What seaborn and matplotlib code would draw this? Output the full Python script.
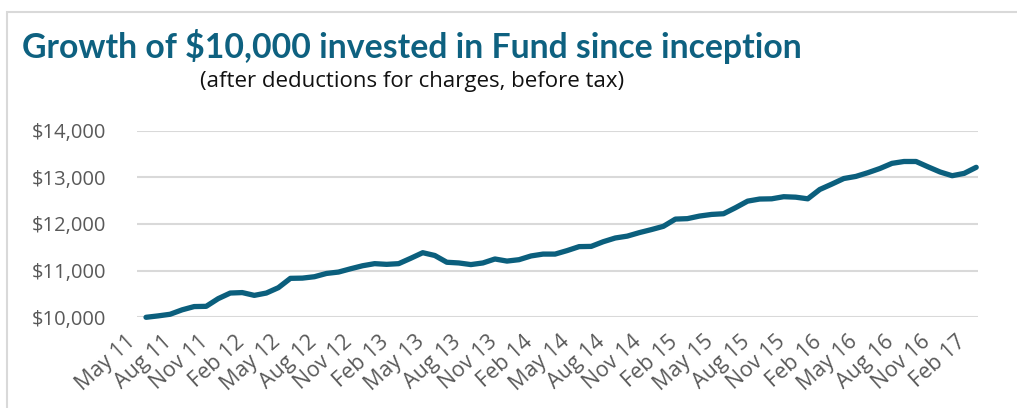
import seaborn as sns
import matplotlib.pyplot as plt
import pandas as pd
from matplotlib.patches import Rectangle
from matplotlib.transforms import ScaledTranslation

# monthly values, May 11 .. Feb 17
values = [10000, 10030, 10065, 10160, 10230, 10235, 10400, 10520, 10530, 10470,
          10520, 10635, 10835, 10840, 10870, 10940, 10970, 11040, 11105, 11150,
          11135, 11150, 11265, 11385, 11325, 11180, 11165, 11130, 11165, 11250,
          11205, 11235, 11315, 11355, 11355, 11430, 11515, 11520, 11620, 11700,
          11740, 11815, 11880, 11950, 12105, 12115, 12170, 12205, 12220, 12350,
          12490, 12535, 12540, 12585, 12575, 12540, 12740, 12855, 12975, 13020,
          13100, 13190, 13300, 13340, 13340, 13225, 13115, 13035, 13085, 13215]

tick_labels = ["May 11", "Aug 11", "Nov 11", "Feb 12", "May 12", "Aug 12",
               "Nov 12", "Feb 13", "May 13", "Aug 13", "Nov 13", "Feb 14",
               "May 14", "Aug 14", "Nov 14", "Feb 15", "May 15", "Aug 15",
               "Nov 15", "Feb 16", "May 16", "Aug 16", "Nov 16", "Feb 17"]

y_ticks = [10000, 11000, 12000, 13000, 14000]

df = pd.DataFrame({"month": range(len(values)), "value": values})

sns.set_style("white")
plt.rcParams['font.family'] = ['Open Sans', 'DejaVu Sans']

fig = plt.figure(figsize=(10.17, 4.08), dpi=100)
ax = fig.add_axes([137 / 1017, 1 - 317.3 / 408, 841 / 1017, 186.6 / 408])

# light frame around the chart
fig.patches.append(Rectangle((7 / 1017, -0.1), 1.2, 1 - 12 / 408 + 0.1,
                             transform=fig.transFigure, fill=False,
                             edgecolor="#D9D9D9", linewidth=1.5))

sns.lineplot(data=df, x="month", y="value", ax=ax, color="#0B5F7D",
             linewidth=3.8, solid_capstyle="round", clip_on=False)

ax.set_xlim(-0.75, 69.15)
ax.set_ylim(10000, 14000)
ax.set_yticks(y_ticks)
ax.set_yticklabels([f"${v:,}" for v in y_ticks])
ax.yaxis.grid(True, color="#D9D9D9", linewidth=1.5)
ax.set_axisbelow(True)
for s in ax.spines.values():
    s.set_visible(False)

ax.set_xticks(range(0, len(values), 3))
ax.set_xticklabels(tick_labels, rotation=42, ha="right",
                   rotation_mode="anchor")
ax.tick_params(axis="x", length=0, pad=10, labelsize=15.5, labelcolor="#595959")
ax.tick_params(axis="y", length=0, pad=22, labelsize=14.5, labelcolor="#595959")
shift = ScaledTranslation(-20 / 100, 0, fig.dpi_scale_trans)
for lab in ax.get_xticklabels():
    lab.set_transform(lab.get_transform() + shift)
ax.set_xlabel("")
ax.set_ylabel("")

fig.text(22 / 1017, 1 - 58 / 408, "Growth of $10,000 invested in Fund since inception",
         fontsize=24.3, fontweight="bold", color="#0E6180", va="baseline",
         family=['Lato', 'DejaVu Sans'])
fig.text(200 / 1017, 1 - 87 / 408, "(after deductions for charges, before tax)",
         fontsize=16, color="#111111", va="baseline")

fig.savefig("out.png", dpi=100)
